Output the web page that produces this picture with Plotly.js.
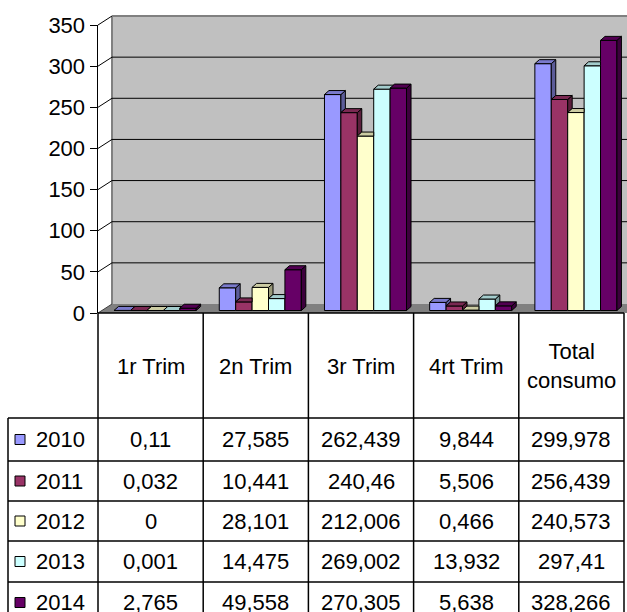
<!DOCTYPE html>
<html><head><meta charset="utf-8">
<script src="https://cdn.plot.ly/plotly-3.0.1.min.js"></script>
<style>html,body{margin:0;padding:0;background:#fff}#chart{width:627px;height:612px}</style>
</head><body><div id="chart"></div>
<script>
// ---- data ----
const categories = ['1r Trim', '2n Trim', '3r Trim', '4rt Trim', 'Total<br>consumo'];
const years = ['2010', '2011', '2012', '2013', '2014'];
const v2010 = [0.11, 27.585, 262.439, 9.844, 299.978];
const v2011 = [0.032, 10.441, 240.46, 5.506, 256.439];
const v2012 = [0, 28.101, 212.006, 0.466, 240.573];
const v2013 = [0.001, 14.475, 269.002, 13.932, 297.41];
const v2014 = [2.765, 49.558, 270.305, 5.638, 328.266];
const colors = ['#9999FF', '#993366', '#FFFFCC', '#CCFFFF', '#660066'];
const yTicks = [0, 50, 100, 150, 200, 250, 300, 350];
const series = [v2010, v2011, v2012, v2013, v2014];

// ---- geometry (pixels) ----
const W = 627, H = 612, L = 98, R = 0, T = 25, B = 299;
const plotW = W - L - R, plotH = H - T - B;
const colW = 105.2;
const yMax = 350;
const k = plotH / yMax;
const xR0 = -0.5, xR1 = -0.5 + plotW / colW;
const barShiftX = 4.5, barShiftY = 2.5;
const depthX = 4.5, depthY = 4;
const wallX = 14, wallY = 9;
const bargap = 0.22;
const nS = series.length;
const bw = (1 - bargap) / nS;
const ddx = depthX / colW, ddy = depthY / k;
const FONT = 'Liberation Sans, Arial, sans-serif';
const FS = 22;

const pX = px => (px - L) / plotW;
const pY = py => (H - B - py) / plotH;
const frontY = v => H - B - v * k;

function shade(hex, f) {
  const n = parseInt(hex.slice(1), 16);
  const r = Math.round(((n >> 16) & 255) * f), g = Math.round(((n >> 8) & 255) * f), b = Math.round((n & 255) * f);
  return `rgb(${r},${g},${b})`;
}
const fmt = v => String(v).replace('.', ',');

// ---- traces ----
const traces = [];
// front value axis carrier (no visible marks; makes the x/y subplot draw its y axis)
traces.push({type: 'scatter', mode: 'none', x: [0], y: [0], xaxis: 'x', yaxis: 'y', showlegend: false, hoverinfo: 'skip'});
series.forEach((s, j) => {
  traces.push({
    type: 'bar', name: years[j], x: categories.map((c, i) => i), y: s,
    xaxis: 'x2', yaxis: 'y2',
    marker: {color: colors[j], line: {color: '#000', width: 1}},
    showlegend: false, hoverinfo: 'y'
  });
});
series.forEach((s, j) => {
  const tx = [], ty = [], sx = [], sy = [];
  s.forEach((v, i) => {
    const xl = i - (1 - bargap) / 2 + j * bw, xr = xl + bw;
    const vn = j < nS - 1 ? series[j + 1][i] : null;
    let pts;
    if (vn === null || vn <= v) {
      pts = [[xl, v], [xr, v], [xr + ddx, v + ddy], [xl + ddx, v + ddy], [xl, v]];
    } else if (vn >= v + ddy) {
      pts = [[xl, v], [xr, v], [xr, v + ddy], [xl + ddx, v + ddy], [xl, v]];
    } else {
      pts = [[xl, v], [xr, v], [xr, vn], [xr + ddx * (vn - v) / ddy, vn], [xr + ddx, v + ddy], [xl + ddx, v + ddy], [xl, v]];
    }
    pts.forEach(p => { tx.push(p[0]); ty.push(p[1]); });
    tx.push(null); ty.push(null);
    const base = vn === null ? 0 : vn;
    if (base < v) {
      [[xr, base], [xr, v], [xr + ddx, v + ddy], [xr + ddx, base + ddy], [xr, base]].forEach(p => { sx.push(p[0]); sy.push(p[1]); });
      sx.push(null); sy.push(null);
    }
  });
  traces.push({type: 'scatter', mode: 'lines', x: sx, y: sy, xaxis: 'x2', yaxis: 'y2', fill: 'toself',
    fillcolor: shade(colors[j], 0.6), line: {color: '#000', width: 1}, showlegend: false, hoverinfo: 'skip'});
  traces.push({type: 'scatter', mode: 'lines', x: tx, y: ty, xaxis: 'x2', yaxis: 'y2', fill: 'toself',
    fillcolor: shade(colors[j], 0.8), line: {color: '#000', width: 1}, showlegend: false, hoverinfo: 'skip'});
});

// ---- shapes ----
const shapes = [];
const backY = v => frontY(v) - wallY;
// back wall
shapes.push({type: 'rect', xref: 'paper', yref: 'paper', layer: 'below',
  x0: pX(L + wallX), x1: pX(W + 20), y0: pY(backY(0)), y1: pY(backY(yMax)),
  fillcolor: '#C0C0C0', line: {width: 0}});
// floor
shapes.push({type: 'path', xref: 'paper', yref: 'paper', layer: 'below',
  path: `M${pX(L)},${pY(frontY(0))} L${pX(L + wallX)},${pY(backY(0))} L${pX(W + 20)},${pY(backY(0))} L${pX(W + 20 - wallX)},${pY(frontY(0))} Z`,
  fillcolor: '#808080', line: {width: 0}});
// wall borders
shapes.push({type: 'line', xref: 'paper', yref: 'paper', layer: 'below', x0: pX(L + wallX), x1: pX(L + wallX), y0: pY(backY(0)), y1: pY(backY(yMax)), line: {color: '#808080', width: 2}});
shapes.push({type: 'line', xref: 'paper', yref: 'paper', layer: 'below', x0: pX(L + wallX), x1: pX(W + 20), y0: pY(backY(yMax)), y1: pY(backY(yMax)), line: {color: '#808080', width: 2}});
// gridlines and tick diagonals
yTicks.forEach(v => {
  if (v > 0 && v < yMax) {
    shapes.push({type: 'line', xref: 'paper', yref: 'paper', layer: 'below', x0: pX(L + wallX), x1: pX(W + 20), y0: pY(backY(v)), y1: pY(backY(v)), line: {color: '#000', width: 1}});
  }
  shapes.push({type: 'line', xref: 'paper', yref: 'paper', layer: 'below', x0: pX(L), x1: pX(L + wallX), y0: pY(frontY(v)), y1: pY(backY(v)), line: {color: v === 0 ? '#404040' : '#000', width: 1}});
});
// table grid
const colX = [0, 1, 2, 3, 4, 5].map(i => L + i * colW);
const legLeft = 8;
const rowLines = [418, 461, 501, 541, 582, 623];
const tableTop = frontY(0);
const tLine = {color: '#000', width: 1.5};
colX.forEach(x => shapes.push({type: 'line', xref: 'paper', yref: 'paper', x0: pX(x), x1: pX(x), y0: pY(tableTop), y1: pY(H + 5), line: tLine}));
shapes.push({type: 'line', xref: 'paper', yref: 'paper', x0: pX(legLeft), x1: pX(legLeft), y0: pY(rowLines[0]), y1: pY(H + 5), line: tLine});
shapes.push({type: 'line', xref: 'paper', yref: 'paper', x0: pX(L), x1: pX(colX[5]), y0: pY(tableTop), y1: pY(tableTop), line: tLine});
rowLines.slice(0, 5).forEach(y => shapes.push({type: 'line', xref: 'paper', yref: 'paper', x0: pX(legLeft), x1: pX(colX[5]), y0: pY(y), y1: pY(y), line: tLine}));

// ---- annotations ----
const annotations = [];
const tfont = {family: FONT, size: FS, color: '#000'};
categories.forEach((c, i) => {
  annotations.push({xref: 'paper', yref: 'paper', x: pX(L + (i + 0.5) * colW), y: pY(366), text: c, showarrow: false,
    xanchor: 'center', yanchor: 'middle', font: tfont});
});
series.forEach((s, j) => {
  const yc = (rowLines[j] + rowLines[j + 1]) / 2;
  annotations.push({xref: 'paper', yref: 'paper', x: pX(34), y: pY(yc), text: years[j], showarrow: false,
    xanchor: 'left', yanchor: 'middle', font: tfont});
  shapes.push({type: 'rect', xref: 'paper', yref: 'paper', x0: pX(15), x1: pX(25), y0: pY(yc - 5), y1: pY(yc + 5),
    fillcolor: colors[j], line: {color: '#000', width: 1}});
  s.forEach((v, i) => {
    annotations.push({xref: 'paper', yref: 'paper', x: pX(L + (i + 0.5) * colW), y: pY(yc), text: fmt(v), showarrow: false,
      xanchor: 'center', yanchor: 'middle', font: tfont});
  });
});

const layout = {
  width: W, height: H,
  margin: {l: L, r: R, t: T, b: B, pad: 0},
  paper_bgcolor: '#fff', plot_bgcolor: 'rgba(0,0,0,0)',
  barmode: 'group', bargap: bargap, bargroupgap: 0,
  showlegend: false,
  xaxis: {range: [xR0, xR1], visible: false, fixedrange: true},
  yaxis: {range: [0, yMax], tickmode: 'array', tickvals: yTicks, ticks: 'outside', ticklen: 7, tickwidth: 1, tickcolor: '#000',
    showline: true, linecolor: '#000', linewidth: 1.5, showgrid: false, zeroline: false, showticklabels: true,
    tickfont: {family: FONT, size: FS, color: '#000'}, fixedrange: true},
  xaxis2: {overlaying: 'x', range: [xR0 - barShiftX / colW, xR1 - barShiftX / colW], visible: false, fixedrange: true},
  yaxis2: {overlaying: 'y', range: [-barShiftY / k, yMax - barShiftY / k], visible: false, fixedrange: true},
  shapes: shapes,
  annotations: annotations
};
Plotly.newPlot('chart', traces, layout, {displayModeBar: false, staticPlot: true});
</script>
</body></html>
